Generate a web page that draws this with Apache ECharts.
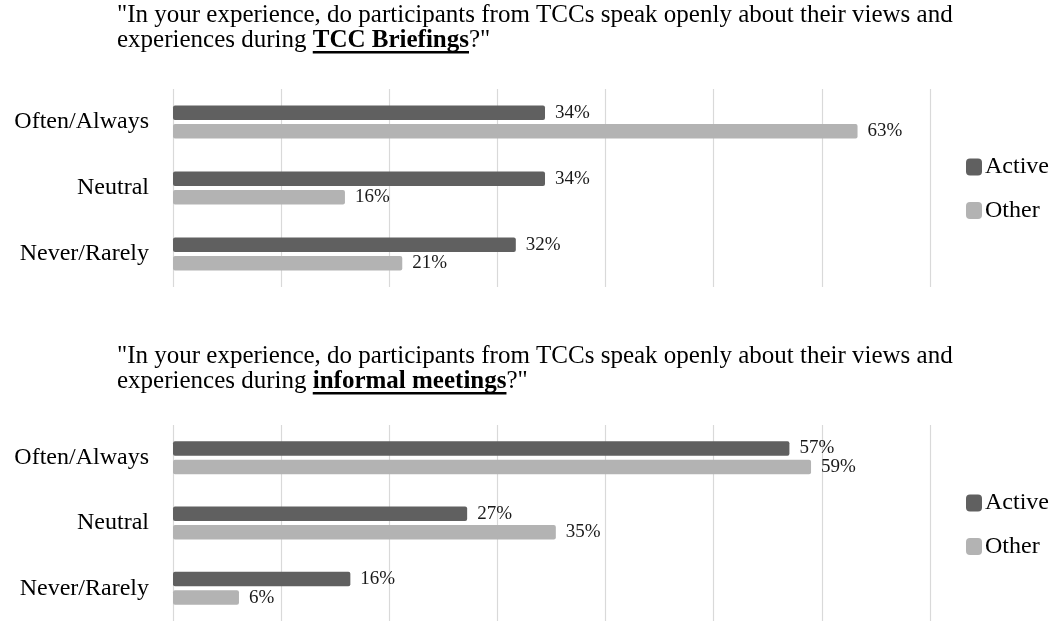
<!DOCTYPE html>
<html>
<head>
<meta charset="utf-8">
<script src="https://cdn.jsdelivr.net/npm/echarts@6/dist/echarts.min.js"></script>
<style>html,body{margin:0;padding:0;background:#fff}#c{width:1056px;height:621px}</style>
</head>
<body>
<div id="c"></div>
<script>
// ---- data ----
var categories = ['Often/Always', 'Neutral', 'Never/Rarely'];
var seriesNames = ['Active', 'Other'];
var briefingsActive = [34.4, 34.4, 31.7];
var briefingsOther = [63.3, 15.9, 21.2];
var informalActive = [57.0, 27.2, 16.4];
var informalOther = [59.0, 35.4, 6.1];
var xMin = 0, xMax = 70, xInterval = 10;
var titlePrefix = 'experiences during ';
var titleLine1 = '"In your experience, do participants from TCCs speak openly about their views and';
var titleBold1 = 'TCC Briefings';
var titleBold2 = 'informal meetings';
var titleSuffix = '?"';

var FONT = "'Liberation Serif', 'Times New Roman', serif";
var COL_ACTIVE = '#606060';
var COL_OTHER = '#b3b3b3';

function measure(text, bold) {
  var c = document.createElement('canvas').getContext('2d');
  c.font = (bold ? 'bold ' : '') + '25px ' + FONT;
  return c.measureText(text).width;
}

function makeTitle(bold, top) {
  return {
    left: 117, top: top, padding: 0,
    text: '{n|' + titleLine1 + '}\n{n|' + titlePrefix + '}{b|' + bold + '}{n|' + titleSuffix + '}',
    textStyle: {
      fontFamily: FONT, fontSize: 25, lineHeight: 25, color: '#000',
      rich: {
        n: { fontFamily: FONT, fontSize: 25, lineHeight: 25, color: '#000', fontWeight: 'normal' },
        b: { fontFamily: FONT, fontSize: 25, lineHeight: 25, color: '#000', fontWeight: 'bold' }
      }
    }
  };
}

function makeSeries(name, data, idx, color) {
  return {
    name: name, type: 'bar', xAxisIndex: idx, yAxisIndex: idx,
    data: data, barWidth: 14.5, barGap: '28%',
    itemStyle: { color: color, borderRadius: 2 },
    label: {
      show: true, position: 'right', distance: 10,
      fontFamily: FONT, fontSize: 19, color: '#1a1a1a',
      formatter: function (p) { return Math.round(p.value) + '%'; }
    },
    emphasis: { disabled: true }
  };
}

function xAxis(idx) {
  return {
    type: 'value', gridIndex: idx, min: xMin, max: xMax, interval: xInterval,
    axisLabel: { show: false }, axisLine: { show: false }, axisTick: { show: false },
    splitLine: { show: true, lineStyle: { color: '#d9d9d9', width: 1.2 } }
  };
}
function yAxis(idx) {
  return {
    type: 'category', gridIndex: idx, data: categories, inverse: true,
    axisLine: { show: false }, axisTick: { show: false },
    axisLabel: { margin: 24, fontFamily: FONT, fontSize: 24, color: '#000' }
  };
}
function legend(top) {
  return {
    orient: 'vertical', left: 966, top: top, padding: 0,
    data: seriesNames, icon: 'roundRect', itemWidth: 16, itemHeight: 17, itemGap: 19.5,
    selectedMode: false,
    textStyle: { fontFamily: FONT, fontSize: 24, lineHeight: 24, color: '#000', padding: [0, 0, 0, -2] }
  };
}

var chart = echarts.init(document.getElementById('c'), null, { renderer: 'canvas' });

var pw = measure(titlePrefix, false);
var b1 = measure(titleBold1, true);
var b2 = measure(titleBold2, true);

chart.setOption({
  animation: false,
  title: [makeTitle(titleBold1, 3), makeTitle(titleBold2, 344)],
  legend: [legend(155), legend(491)],
  grid: [
    { left: 173, right: 126, top: 89, height: 198 },
    { left: 173, right: 126, top: 425, height: 198 }
  ],
  xAxis: [xAxis(0), xAxis(1)],
  yAxis: [yAxis(0), yAxis(1)],
  series: [
    makeSeries('Active', briefingsActive, 0, COL_ACTIVE),
    makeSeries('Other', briefingsOther, 0, COL_OTHER),
    makeSeries('Active', informalActive, 1, COL_ACTIVE),
    makeSeries('Other', informalOther, 1, COL_OTHER)
  ],
  graphic: [
    { type: 'rect', left: 117 + pw, top: 51, shape: { width: b1, height: 2.5 }, style: { fill: '#000' } },
    { type: 'rect', left: 117 + pw, top: 392, shape: { width: b2, height: 2.5 }, style: { fill: '#000' } }
  ]
});
</script>
</body>
</html>
